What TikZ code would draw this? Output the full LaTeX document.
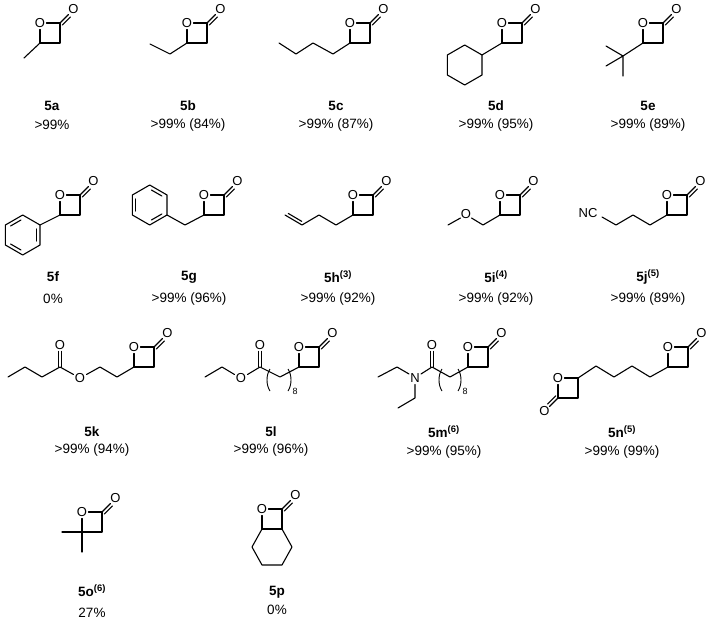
\documentclass[tikz,border=0pt]{standalone}
\usepackage{fontspec}
\setmainfont{Liberation Sans}
\usetikzlibrary{calc}
\tikzset{
  atom/.style={inner sep=0pt,font=\fontsize{13}{13}\selectfont},
  cname/.style={inner sep=0pt,font=\fontsize{13.5}{14}\selectfont\bfseries},
  cyield/.style={inner sep=0pt,font=\fontsize{13.5}{14}\selectfont},
  bond/.style={line width=1.1pt,line cap=round,line join=round}
}
\newcommand\lac[2]{%
  \begin{scope}[shift={(#1,#2)}]
    \node[atom] at (0,-20) {O};
    \draw[bond] (0,0) -- (0,-13.5) (6.5,-20) -- (20,-20) -- (20,0) -- (0,0);
    \draw[bond] (20,-20) -- (28.5,-28.5) (22.2,-17.9) -- (30.4,-26.1);
    \node[atom] at (33.5,-33.5) {O};
  \end{scope}}
\newcommand\hexa[2]{\draw[bond] ($(#1,#2)+(-30:20)$) -- ($(#1,#2)+(30:20)$) -- ($(#1,#2)+(90:20)$) -- ($(#1,#2)+(150:20)$) -- ($(#1,#2)+(210:20)$) -- ($(#1,#2)+(270:20)$) -- cycle;}
\newcommand\dbl[4]{\draw[bond,shorten <=2pt,shorten >=2pt] ($(#1,#2)+(#3:16)$) -- ($(#1,#2)+(#4:16)$);}
\newcommand\brk[2]{%
  \draw[line width=0.9pt] (#1+2,#2) .. controls (#1-2,#2+6) and (#1-2,#2+16) .. (#1+2,#2+22);}
\newcommand\rbrk[2]{%
  \draw[line width=0.9pt] (#1-2,#2) .. controls (#1+2,#2+6) and (#1+2,#2+16) .. (#1-2,#2+22);}
\begin{document}
\begin{tikzpicture}[x=1pt,y=-1pt]
\fill[white] (0,0) rectangle (715,623);
\useasboundingbox (0,0) rectangle (715,623);
% ---------- row 1
\lac{40}{43}
\draw[bond] (40,43) -- (24,58);
\lac{187}{43}
\draw[bond] (187,43) -- (170,54) -- (150,44);
\lac{350}{43}
\draw[bond] (350,43) -- (333,54) -- (313,43) -- (296,54) -- (279,43);
\lac{502}{43}
\draw[bond] (502,43) -- (482,55);
\hexa{464.7}{65}
\lac{643}{43}
\draw[bond] (643,43) -- (623,56) -- (606,46) (623,56) -- (606,66) (623,56) -- (623,76);
\node[cname] (n5a) at (52,106) {5a};   \node[cyield] (y5a) at (52,125) {>99\%};
\node[cname] (n5b) at (188,106) {5b};  \node[cyield] (y5b) at (188,125) {>99\% (84\%)};
\node[cname] (n5c) at (336,106) {5c};  \node[cyield] (y5c) at (336,125) {>99\% (87\%)};
\node[cname] (n5d) at (496,106) {5d};  \node[cyield] (y5d) at (496,125) {>99\% (95\%)};
\node[cname] (n5e) at (648,106) {5e};  \node[cyield] (y5e) at (648,125) {>99\% (89\%)};
% ---------- row 2
\lac{60}{215}
\draw[bond] (60,215) -- (40,225);
\hexa{22.7}{235}
\dbl{22.7}{235}{270}{210}
\dbl{22.7}{235}{-30}{30}
\dbl{22.7}{235}{90}{150}
\lac{204}{215}
\draw[bond] (204,215) -- (185,225) -- (167,215);
\hexa{149.7}{205}
\dbl{149.7}{205}{210}{150}
\dbl{149.7}{205}{270}{330}
\dbl{149.7}{205}{30}{90}
\lac{353}{215}
\draw[bond] (353,215) -- (336,225) -- (319,215) -- (302,225) -- (285,215);
\draw[bond,shorten <=2pt,shorten >=2pt,transform canvas={shift={(1.5pt,2.6pt)}}] (302,225) -- (285,215);
\lac{500}{215}
\draw[bond] (500,215) -- (483,225) -- (471.5,218);
\node[atom] (oi) at (466,214) {O};
\draw[bond] (460.5,218) -- (448,225);
\lac{667}{215}
\draw[bond] (667,215) -- (650,225) -- (633,215) -- (616,225) -- (602,217);
\node[atom] (nc) at (588,213) {NC};
\node[cname] (n5f) at (53,277) {5f};  \node[cyield] (y5f) at (53,299) {0\%};
\node[cname] (n5g) at (189,277) {5g};  \node[cyield] (y5g) at (189,299) {>99\% (96\%)};
\node[cname] (n5h) at (338,277) {5h\textsuperscript{(3)}};  \node[cyield] (y5h) at (338,299) {>99\% (92\%)};
\node[cname] (n5i) at (496,277) {5i\textsuperscript{(4)}};  \node[cyield] (y5i) at (496,299) {>99\% (92\%)};
\node[cname] (n5j) at (648,277) {5j\textsuperscript{(5)}};  \node[cyield] (y5j) at (648,299) {>99\% (89\%)};
% ---------- row 3
\lac{134}{367}
\draw[bond] (8,377) -- (25,367) -- (42,377) -- (60,367) -- (73.5,374.5);
\draw[bond] (58.5,367) -- (58.5,351.5) (61.5,367) -- (61.5,351.5);
\node[atom] (ok1) at (60,345) {O};
\node[atom] (ok2) at (80,378) {O};
\draw[bond] (86.5,374.5) -- (100,367) -- (117,377) -- (134,367);
% 5l
\lac{299}{367}
\draw[bond] (205,377) -- (222,367) -- (234.5,374.5);
\node[atom] (ol2) at (241,378) {O};
\draw[bond] (247.5,374.5) -- (260,367) -- (280,377) -- (299,367);
\draw[bond] (258.5,367) -- (258.5,351.5) (261.5,367) -- (261.5,351.5);
\node[atom] (ol1) at (260,345) {O};
\brk{268}{369} \rbrk{290}{369}
\node[atom,font=\fontsize{9}{9}\selectfont] (s8l) at (295,391) {8};
% 5m
\lac{468}{367}
\draw[bond] (378,377) -- (397,367) -- (409,374);
\node[atom] (nm) at (415,378) {N};
\draw[bond] (421,374) -- (432,367) -- (450,377) -- (468,367);
\draw[bond] (430.5,367) -- (430.5,351.5) (433.5,367) -- (433.5,351.5);
\node[atom] (om1) at (432,345) {O};
\draw[bond] (415,384.5) -- (415,398) -- (398,408);
\brk{440}{369} \rbrk{460}{369}
\node[atom,font=\fontsize{9}{9}\selectfont] (s8m) at (465,391) {8};
% 5n
\lac{668}{367}
\draw[bond] (668,367) -- (650,377) -- (632,366) -- (614,377) -- (596,366) -- (578,378);
\node[atom] (on1) at (558,378) {O};
\draw[bond] (578,378) -- (564.5,378) (558,384.5) -- (558,398) -- (578,398) -- (578,378);
\draw[bond] (558,398) -- (549.5,406.5) (555.8,395.8) -- (547.6,404);
\node[atom] (on2) at (544.5,411.5) {O};
\node[cname] (n5k) at (92,432) {5k};  \node[cyield] (y5k) at (92,450) {>99\% (94\%)};
\node[cname] (n5l) at (271,432) {5l};  \node[cyield] (y5l) at (271,450) {>99\% (96\%)};
\node[cname] (n5m) at (444,432) {5m\textsuperscript{(6)}};  \node[cyield] (y5m) at (444,452) {>99\% (95\%)};
\node[cname] (n5n) at (622,432) {5n\textsuperscript{(5)}};  \node[cyield] (y5n) at (622,452) {>99\% (99\%)};
% ---------- row 4
\lac{82}{532}
\draw[bond] (82,532) -- (62,532) (82,532) -- (82,552);
\lac{262}{529}
\draw[bond] (262,529) -- (252,547) -- (262,565) -- (282,565) -- (292,547) -- (282,529);
\node[cname] (n5o) at (92,591) {5o\textsuperscript{(6)}};  \node[cyield] (y5o) at (92,613) {27\%};
\node[cname] (n5p) at (277,592) {5p};  \node[cyield] (y5p) at (277,610) {0\%};
\end{tikzpicture}
\end{document}
